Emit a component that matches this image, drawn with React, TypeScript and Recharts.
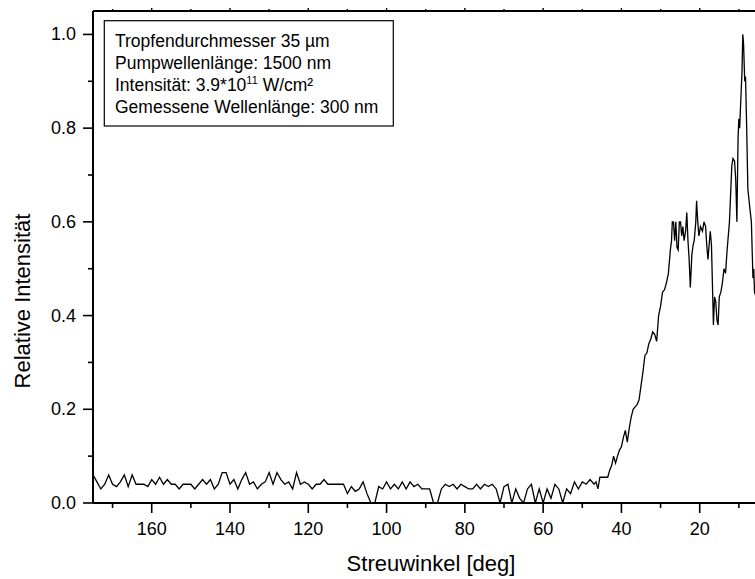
import React from 'react';
import { LineChart, Line, XAxis, YAxis, Customized } from 'recharts';

// Scattering angle [deg] (descending)
const angles: number[] = [
  175, 174, 173, 172, 171, 170, 169, 168, 167, 166, 165, 164, 163, 162, 161, 160,
  159, 158, 157, 156, 155, 154, 153, 152, 151, 150, 149, 148, 147, 146, 145, 144,
  143, 142, 141, 140, 139, 138, 137, 136, 135, 134, 133, 132, 131, 130, 129, 128,
  127, 126, 125, 124, 123, 122, 121, 120, 119, 118, 117, 116, 115, 114, 113, 112,
  111, 110, 109, 108, 107, 106, 105, 104, 103, 102, 101, 100, 99, 98, 97, 96,
  95, 94, 93, 92, 91, 90, 89, 88, 87, 86, 85, 84, 83, 82, 81, 80,
  79, 78, 77, 76, 75, 74, 73, 72, 71, 70, 69, 68, 67, 66, 65, 64,
  63, 62, 61, 60, 59, 58, 57, 56, 55, 54, 53, 52, 51, 50, 49, 48, 47,
  46.5, 46, 45.5, 45, 44.5, 44, 43.5, 43, 42.5, 42, 41.5, 41, 40.5, 40, 39.5, 39,
  38.5, 38, 37.5, 37, 36.5, 36, 35.5, 35, 34.5, 34, 33.5, 33, 32.5, 32, 31.5, 31,
  30.5, 30, 29.5, 29, 28.5, 28, 27.5, 27.2, 27, 26.7, 26.4, 26.1, 25.8, 25.5, 25.2, 24.9,
  24.6, 24.3, 24, 23.6, 23.3, 23, 22.7, 22.4, 22, 21.7, 21.4, 21, 20.8, 20.5, 20.2, 19.8,
  19.3, 18.9, 18.5, 18.2, 17.9, 17.6, 17.3, 17, 16.7, 16.5, 16.2, 15.9, 15.6, 15.3, 15, 14.6,
  14.2, 13.8, 13.4, 13, 12.4, 11.8, 11.5, 11.1, 10.8, 10.5, 10.2, 10, 9.8, 9.5, 9.2, 9,
  8.8, 8.5, 8.3, 8, 7.7, 7.2, 6.8, 6.4, 6.2, 6, 5.6,
];

// Relative intensity
const intensities: number[] = [
  0.06, 0.045, 0.03, 0.04, 0.06, 0.04, 0.035, 0.045, 0.06, 0.035, 0.06, 0.04, 0.04, 0.04, 0.035, 0.05,
  0.04, 0.055, 0.04, 0.05, 0.04, 0.04, 0.03, 0.04, 0.04, 0.04, 0.03, 0.04, 0.05, 0.04, 0.05, 0.03,
  0.04, 0.065, 0.065, 0.04, 0.05, 0.03, 0.05, 0.065, 0.04, 0.045, 0.03, 0.04, 0.045, 0.065, 0.04, 0.065,
  0.05, 0.04, 0.045, 0.03, 0.065, 0.04, 0.045, 0.04, 0.03, 0.04, 0.04, 0.05, 0.04, 0.04, 0.04, 0.04,
  0.04, 0.02, 0.035, 0.025, 0.03, 0.045, 0.02, 0.0, 0.0, 0.035, 0.03, 0.045, 0.03, 0.04, 0.03, 0.045,
  0.03, 0.045, 0.035, 0.04, 0.03, 0.03, 0.03, 0.0, 0.0, 0.03, 0.04, 0.035, 0.04, 0.03, 0.04, 0.035,
  0.03, 0.03, 0.04, 0.03, 0.04, 0.035, 0.04, 0.03, 0.0, 0.035, 0.04, 0.0, 0.03, 0.01, 0.0, 0.03,
  0.04, 0.0, 0.03, 0.0, 0.03, 0.01, 0.04, 0.03, 0.0, 0.03, 0.02, 0.045, 0.03, 0.045, 0.04, 0.05, 0.04,
  0.045, 0.03, 0.055, 0.055, 0.055, 0.055, 0.055, 0.07, 0.08, 0.1, 0.085, 0.1, 0.113, 0.12, 0.14, 0.155,
  0.13, 0.16, 0.184, 0.2, 0.205, 0.21, 0.22, 0.25, 0.28, 0.315, 0.32, 0.34, 0.35, 0.365, 0.36, 0.345,
  0.4, 0.42, 0.45, 0.455, 0.47, 0.49, 0.54, 0.56, 0.6, 0.6, 0.56, 0.6, 0.545, 0.54, 0.6, 0.6,
  0.57, 0.59, 0.56, 0.58, 0.62, 0.56, 0.52, 0.46, 0.53, 0.55, 0.56, 0.6, 0.645, 0.6, 0.57, 0.59,
  0.58, 0.6, 0.59, 0.55, 0.52, 0.55, 0.58, 0.55, 0.45, 0.38, 0.44, 0.43, 0.39, 0.38, 0.44, 0.45,
  0.47, 0.5, 0.49, 0.54, 0.6, 0.72, 0.735, 0.73, 0.69, 0.6, 0.78, 0.82, 0.8, 0.86, 0.92, 1.0,
  0.98, 0.9, 0.91, 0.8, 0.67, 0.63, 0.6, 0.48, 0.5, 0.45, 0.44,
];

const xTicks: number[] = [10, 20, 30, 40, 50, 60, 70, 80, 90, 100, 110, 120, 130, 140, 150, 160, 170];
const yTicks: number[] = [0, 0.1, 0.2, 0.3, 0.4, 0.5, 0.6, 0.7, 0.8, 0.9, 1.0];

const xTitle = 'Streuwinkel [deg]';
const yTitle = 'Relative Intensität';
const infoLine1 = 'Tropfendurchmesser 35 µm';
const infoLine2 = 'Pumpwellenlänge: 1500 nm';
const infoLine3a = 'Intensität: 3.9*10';
const infoLine3sup = '11';
const infoLine3b = ' W/cm²';
const infoLine4 = 'Gemessene Wellenlänge: 300 nm';

const data = angles.map((a, i) => ({ angle: a, value: intensities[i] }));

const FONT = '"Liberation Sans", Arial, Helvetica, sans-serif';

const BottomTick = (props: any) => {
  const { x, y, payload } = props;
  const v = payload.value as number;
  const major = v % 20 === 0;
  return (
    <g>
      <line x1={x} x2={x} y1={y} y2={y + (major ? 10 : 5)} stroke="#000" strokeWidth={1.6} />
      {major && (
        <text x={x} y={y + 32} textAnchor="middle" fontSize={18} fill="#000" fontFamily={FONT}>
          {v}
        </text>
      )}
    </g>
  );
};

const TopTick = (props: any) => {
  const { x, y, payload } = props;
  const v = payload.value as number;
  const major = v % 20 === 0;
  return <line x1={x} x2={x} y1={y} y2={y - (major ? 3 : 2)} stroke="#000" strokeWidth={1.4} />;
};

const LeftTick = (props: any) => {
  const { x, y, payload } = props;
  const v = payload.value as number;
  const major = Math.round(v * 10) % 2 === 0;
  return (
    <g>
      <line x1={x} x2={x - (major ? 10 : 5)} y1={y} y2={y} stroke="#000" strokeWidth={1.6} />
      {major && (
        <text x={x - 17} y={y + 6} textAnchor="end" fontSize={18} fill="#000" fontFamily={FONT}>
          {v.toFixed(1)}
        </text>
      )}
    </g>
  );
};

const Overlay = () => (
  <g fontFamily={FONT} fill="#000">
    <rect x={96.3} y={12.7} width={289} height={105.3} fill="#fff" stroke="#000" strokeWidth={1.2} />
    <text x={107} y={38.5} fontSize={17.5}>{infoLine1}</text>
    <text x={107} y={60.5} fontSize={17.5}>{infoLine2}</text>
    <text x={107} y={83} fontSize={17.5}>
      {infoLine3a}
      <tspan fontSize={11} dy={-7}>{infoLine3sup}</tspan>
      <tspan fontSize={17.5} dy={7}>{infoLine3b}</tspan>
    </text>
    <text x={107} y={105} fontSize={17.5}>{infoLine4}</text>
    <text x={423} y={563} fontSize={22} textAnchor="middle">{xTitle}</text>
    <text x={0} y={0} fontSize={22} textAnchor="middle" transform="translate(22, 293) rotate(-90)">
      {yTitle}
    </text>
  </g>
);

export default function App() {
  return (
    <div
      style={{
        position: 'fixed',
        left: 0,
        top: 0,
        width: 755,
        height: 579,
        overflow: 'hidden',
        background: '#fff',
      }}
    >
      <div style={{ position: 'absolute', left: 8, top: 8 }}>
        <LineChart
          width={790}
          height={571}
          data={data}
          margin={{ top: 0, right: 20, bottom: 0, left: 0 }}
        >
          <XAxis
            xAxisId="bottom"
            dataKey="angle"
            type="number"
            domain={[0, 175]}
            reversed
            ticks={xTicks}
            interval={0}
            height={76}
            tickSize={0}
            tickMargin={0}
            tick={<BottomTick />}
            axisLine={{ stroke: '#000', strokeWidth: 2 }}
            tickLine={false}
            allowDataOverflow
          />
          <XAxis
            xAxisId="top"
            orientation="top"
            dataKey="angle"
            type="number"
            domain={[0, 175]}
            reversed
            ticks={xTicks}
            interval={0}
            height={3}
            tickSize={0}
            tickMargin={0}
            tick={<TopTick />}
            axisLine={{ stroke: '#000', strokeWidth: 2 }}
            tickLine={false}
            allowDataOverflow
          />
          <YAxis
            type="number"
            domain={[0, 1.05]}
            ticks={yTicks}
            interval={0}
            width={85}
            tickSize={0}
            tickMargin={0}
            tick={<LeftTick />}
            axisLine={{ stroke: '#000', strokeWidth: 2 }}
            tickLine={false}
            allowDataOverflow
          />
          <Line
            xAxisId="bottom"
            type="linear"
            dataKey="value"
            stroke="#000"
            strokeWidth={1.3}
            dot={false}
            isAnimationActive={false}
          />
          <Customized component={Overlay} />
        </LineChart>
      </div>
    </div>
  );
}
